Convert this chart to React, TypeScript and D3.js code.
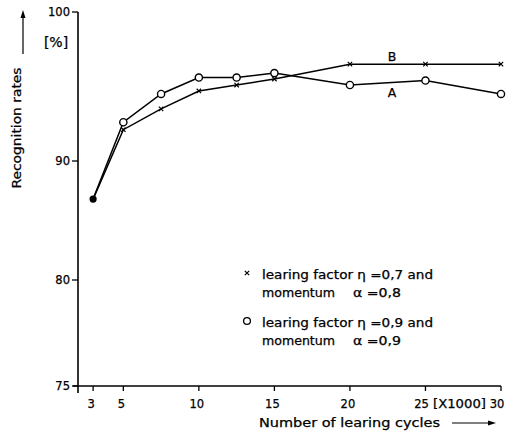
import React from "react";
import * as d3 from "d3";

const cycles = [3, 5, 7.5, 10, 12.5, 15, 20, 25, 30];
const seriesA = [86.8, 92.6, 94.5, 95.6, 95.6, 95.9, 95.1, 95.4, 94.5];
const seriesB = [86.8, 92.1, 93.5, 94.7, 95.1, 95.5, 96.5, 96.5, 96.5];
const xTicks = [3, 5, 10, 15, 20, 25, 30];
const yTicks = [75, 80, 90, 100];
const legendB = ["learing factor \u03b7 =0,7 and", "momentum", "\u03b1 =0,8"];
const legendA = ["learing factor \u03b7 =0,9 and", "momentum", "\u03b1 =0,9"];

const FONT = "DejaVu Sans, sans-serif";
const TS = { stroke: "#000", strokeWidth: 0.25 };

export default function App() {
  const x = d3.scaleLinear().domain([2, 30]).range([78, 501]);
  const y = d3.scaleLinear().domain([75, 80, 90, 100]).range([386, 280, 161, 12]);
  const line = d3
    .line<number>()
    .x((_, i) => x(cycles[i]))
    .y((d) => y(d));
  const x0 = x(2);
  const y0 = y(75);

  const cross = (cx: number, cy: number, s: number, k: string) => (
    <path
      key={k}
      d={`M${cx - s},${cy - s}L${cx + s},${cy + s}M${cx - s},${cy + s}L${cx + s},${cy - s}`}
      stroke="#000"
      strokeWidth={1.2}
    />
  );

  return (
    <svg
      width={518}
      height={432}
      style={{ position: "absolute", left: 0, top: 0, display: "block", background: "#fff" }}
      fontFamily={FONT}
    >
      <rect width={518} height={432} fill="#fff" />
      {/* axes */}
      <line x1={x0} x2={x0} y1={y(100)} y2={y0 + 7} stroke="#000" strokeWidth={1.6} />
      <line x1={x0 - 5} x2={x(30)} y1={y0} y2={y0} stroke="#000" strokeWidth={1.6} />
      {yTicks.map((t) => (
        <g key={"yt" + t}>
          <line x1={x0 - 6} x2={x0} y1={y(t)} y2={y(t)} stroke="#000" strokeWidth={1.3} />
          <text x={x0 - 8} y={y(t) + 4} fontSize={11.5} textAnchor="end" {...TS}>
            {t}
          </text>
        </g>
      ))}
      {xTicks.map((t) => (
        <g key={"xt" + t}>
          <line x1={x(t)} x2={x(t)} y1={y0} y2={y0 + 5} stroke="#000" strokeWidth={1.3} />
          <text x={x(t) - (t >= 25 ? 4 : 2)} y={y0 + 22} fontSize={11.5} textAnchor="middle" {...TS}>
            {t}
          </text>
        </g>
      ))}
      <text x={433} y={y0 + 22} fontSize={12.5} textLength={53} lengthAdjust="spacingAndGlyphs" {...TS}>
        [X1000]
      </text>

      {/* axis titles */}
      <text
        transform="translate(21,128) rotate(-90)"
        fontSize={11.5}
        textAnchor="middle"
        textLength={121}
        lengthAdjust="spacingAndGlyphs"
        {...TS}
      >
        Recognition rates
      </text>
      <line x1={23} x2={23} y1={54} y2={14} stroke="#000" strokeWidth={1.2} />
      <path d="M23,10 L20.5,18 L25.5,18 Z" fill="#000" />
      <text x={56} y={47} fontSize={14} textAnchor="middle" {...TS}>
        [%]
      </text>

      <text x={259} y={427} fontSize={11.5} textLength={181} lengthAdjust="spacingAndGlyphs" {...TS}>
        Number of learing cycles
      </text>
      <line x1={452} x2={490} y1={423} y2={423} stroke="#000" strokeWidth={1.2} />
      <path d="M496,423 L488,420.5 L488,425.5 Z" fill="#000" />

      {/* lines */}
      <path d={line(seriesB) || ""} fill="none" stroke="#000" strokeWidth={1.5} />
      <path d={line(seriesA) || ""} fill="none" stroke="#000" strokeWidth={1.5} />
      {seriesB.slice(1).map((v, i) => cross(x(cycles[i + 1]), y(v), 2.2, "cb" + i))}
      {seriesA.slice(1).map((v, i) => (
        <circle key={"ca" + i} cx={x(cycles[i + 1])} cy={y(v)} r={3.6} fill="#fff" stroke="#000" strokeWidth={1.4} />
      ))}
      <circle cx={x(cycles[0])} cy={y(seriesA[0])} r={3.6} fill="#000" />

      <text x={392} y={61} fontSize={12.5} textAnchor="middle" {...TS}>B</text>
      <text x={392} y={97} fontSize={12.5} textAnchor="middle" {...TS}>A</text>

      {/* legend */}
      {cross(247, 273, 2.2, "lg1")}
      <text x={262} y={279} fontSize={11.5} textLength={171} lengthAdjust="spacingAndGlyphs" {...TS}>{legendB[0]}</text>
      <text x={262} y={297} fontSize={11.5} textLength={73} lengthAdjust="spacingAndGlyphs" {...TS}>{legendB[1]}</text>
      <text x={353} y={297} fontSize={11.5} textLength={48} lengthAdjust="spacingAndGlyphs" {...TS}>{legendB[2]}</text>

      <circle cx={247} cy={321} r={3.4} fill="#fff" stroke="#000" strokeWidth={1.3} />
      <text x={262} y={327} fontSize={11.5} textLength={171} lengthAdjust="spacingAndGlyphs" {...TS}>{legendA[0]}</text>
      <text x={262} y={345} fontSize={11.5} textLength={73} lengthAdjust="spacingAndGlyphs" {...TS}>{legendA[1]}</text>
      <text x={353} y={345} fontSize={11.5} textLength={48} lengthAdjust="spacingAndGlyphs" {...TS}>{legendA[2]}</text>
    </svg>
  );
}
